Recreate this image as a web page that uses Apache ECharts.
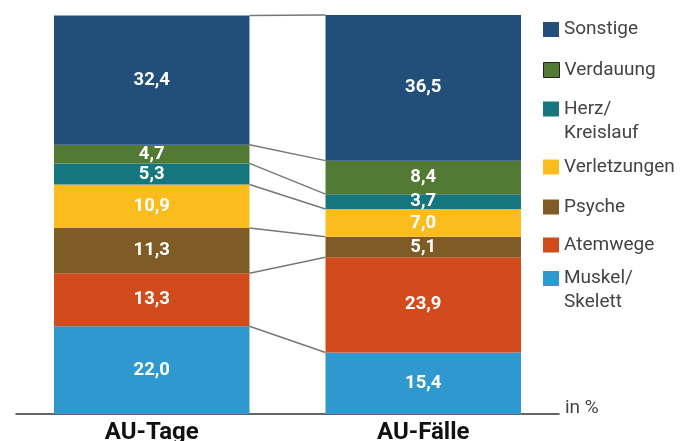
<!DOCTYPE html>
<html>
<head>
<meta charset="utf-8">
<script src="https://cdn.jsdelivr.net/npm/echarts@6/dist/echarts.min.js"></script>
<style>
  html, body { margin: 0; padding: 0; background: #fff; }
  #chart { width: 691px; height: 441px; }
</style>
</head>
<body>
<div id="chart"></div>
<script>
// Two columns: share of sick-leave days and sick-leave cases by diagnosis group (in %)
const categories = ['AU-Tage', 'AU-Fälle'];

// Diagnosis groups, bottom of the stack first
const groups = ['Muskel/Skelett', 'Atemwege', 'Psyche', 'Verletzungen', 'Herz/Kreislauf', 'Verdauung', 'Sonstige'];
const legendLabels = ['Muskel/\nSkelett', 'Atemwege', 'Psyche', 'Verletzungen', 'Herz/\nKreislauf', 'Verdauung', 'Sonstige'];
const colors = ['#2e98cf', '#d24b1c', '#7f5b25', '#fbbd1e', '#16767e', '#537a34', '#214f7a'];

// Values per group: [AU-Tage, AU-Fälle]
const muskelSkelett = [22.0, 15.4];
const atemwege      = [13.3, 23.9];
const psyche        = [11.3, 5.1];
const verletzungen  = [10.9, 7.0];
const herzKreislauf = [5.3, 3.7];
const verdauung     = [4.7, 8.4];
const sonstige      = [32.4, 36.5];

const groupValues = [muskelSkelett, atemwege, psyche, verletzungen, herzKreislauf, verdauung, sonstige];

const BAR_RATIO = 0.72;
const FONT = 'Roboto, "Liberation Sans", Arial, sans-serif';
const LEGEND_LINE = 24;

// Cumulative tops of every segment, used for the connector lines between the columns
const boundaries = [];
let cumA = 0, cumB = 0;
groupValues.forEach(v => {
  cumA += v[0];
  cumB += v[1];
  boundaries.push([0, +cumA.toFixed(2), +cumB.toFixed(2)]);
});

const fmt = v => v.toFixed(1).replace('.', ',');

const barSeries = groups.map((name, i) => ({
  name: name,
  type: 'bar',
  stack: 'total',
  barWidth: (BAR_RATIO * 100) + '%',
  data: groupValues[i],
  itemStyle: { color: colors[i] },
  label: {
    show: true,
    position: 'inside',
    color: '#fff',
    fontWeight: 'bold',
    fontSize: 18.5,
    fontFamily: FONT,
    formatter: p => fmt(p.value)
  },
  emphasis: { disabled: true }
}));

const connectorSeries = {
  type: 'custom',
  name: 'connectors',
  data: boundaries,
  encode: { x: 0, y: [1, 2] },
  silent: true,
  z: 1,
  renderItem: (params, api) => {
    const a = api.coord([0, api.value(1)]);
    const b = api.coord([1, api.value(2)]);
    const half = api.size([1, 0])[0] * BAR_RATIO / 2;
    return {
      type: 'line',
      shape: { x1: a[0] + half, y1: a[1], x2: b[0] - half, y2: b[1] },
      style: { stroke: '#777', lineWidth: 1.5 }
    };
  }
};

// Legend rows: vertical centre of each swatch
const legendMids = [278.5, 245, 207, 167, 109, 70, 29.5];
const legends = groups.map((name, i) => {
  const twoLine = legendLabels[i].indexOf('\n') >= 0;
  // two-line labels get an empty leading line so the first line sits beside the swatch
  const text = twoLine ? '\n' + legendLabels[i] : legendLabels[i];
  const halfBlock = twoLine ? LEGEND_LINE * 1.5 : LEGEND_LINE / 2;
  return {
    left: 543,
    top: legendMids[i] - halfBlock,
    padding: 0,
    itemWidth: 16,
    itemHeight: 15,
    icon: 'rect',
    selectedMode: false,
    data: [{
      name: name,
      itemStyle: i === 5 ? { borderColor: '#222', borderWidth: 1 } : undefined
    }],
    formatter: () => text,
    textStyle: {
      fontFamily: FONT,
      fontSize: 19,
      color: '#444',
      lineHeight: LEGEND_LINE
    }
  };
});

const chart = echarts.init(document.getElementById('chart'), null, { renderer: 'canvas' });
chart.setOption({
  animation: false,
  backgroundColor: '#fff',
  grid: { left: 16, right: 132, top: 15, bottom: 27, containLabel: false, outerBoundsMode: 'none' },
  legend: legends,
  xAxis: {
    type: 'category',
    data: categories,
    axisLine: { show: true, lineStyle: { color: '#333', width: 1.5 } },
    axisTick: { show: false },
    axisLabel: {
      margin: 7,
      color: '#111',
      fontWeight: 'bold',
      fontSize: 24,
      fontFamily: FONT
    },
    name: 'in %',
    nameLocation: 'end',
    nameGap: 6,
    nameTextStyle: {
      fontFamily: FONT,
      fontSize: 19,
      color: '#444',
      verticalAlign: 'bottom',
      lineHeight: 11
    }
  },
  yAxis: {
    type: 'value',
    min: 0,
    max: 100,
    show: false,
    splitLine: { show: false }
  },
  series: barSeries.concat([connectorSeries])
});
</script>
</body>
</html>
